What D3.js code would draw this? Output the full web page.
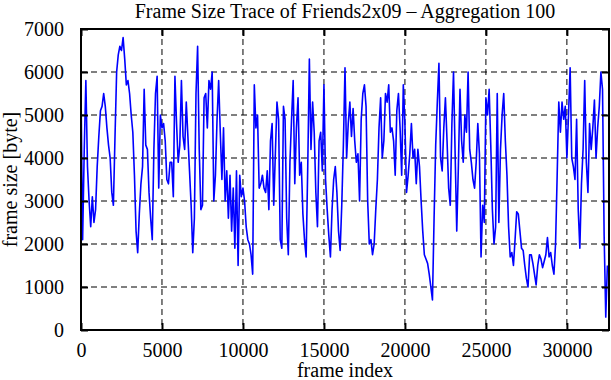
<!DOCTYPE html>
<html>
<head>
<meta charset="utf-8">
<script src="https://cdn.jsdelivr.net/npm/d3@7"></script>
<style>
  body { margin: 0; background: #fff; }
  text { font-family: "Liberation Serif", "Times New Roman", serif; font-size: 20px; fill: #000; }
</style>
</head>
<body>
<script>
// Frame sizes, each point is the mean of 100 frames
var frameSize = [
  5600, 2100, 4200, 5800, 3800, 3000, 2400, 3100, 2500, 2800,
  3800, 4500, 5100, 5200, 5500, 5200, 4700, 4300, 4000, 3200,
  2900, 4500, 6000, 6400, 6600, 6500, 6800, 6300, 5700, 5800,
  5500, 5000, 4600, 3600, 2300, 1800, 2700, 3400, 3800, 5600,
  4300, 4200, 3200, 2600, 2100, 4200, 5500, 5900, 3300, 5000,
  4700, 4800, 4400, 3500, 3400, 3900, 3900, 3100, 5900, 4800,
  3900, 4300, 5800, 4500, 4200, 5300, 4500, 3700, 2900, 1800,
  2600, 5500, 6600, 4200, 2800, 2900, 5400, 5500, 4700, 5800,
  5600, 6000, 3000, 3600, 4900, 5800, 4600, 3500, 4700, 3000,
  3700, 2600, 3600, 2300, 3300, 1900, 3700, 1500, 3600, 3100,
  3300, 3000, 2400, 2100, 2000, 1750, 1300, 5700, 4700, 5000,
  3300, 3400, 3600, 3300, 3200, 3700, 2800, 4400, 4800, 2900,
  4100, 5300, 4900, 2100, 1900, 5200, 4900, 2600, 1750, 3900,
  4900, 5800, 3400, 4700, 5400, 3600, 3900, 2700, 2100, 1700,
  3800, 6300, 4200, 5300, 4600, 3200, 2400, 4400, 4600, 3700,
  5700, 3500, 2800, 2200, 1700, 2800, 3500, 3800, 3200, 2300,
  1850, 2900, 4300, 6100, 4000, 4800, 5300, 4500, 5150, 4400,
  3900, 4100, 3000, 4900, 5500, 5700, 5200, 3000, 2000, 2100,
  1750, 2000, 2800, 3500, 4700, 5400, 4000, 4400, 5500, 5300,
  5700, 4600, 4700, 4400, 3600, 5100, 5500, 4700, 3600, 5700,
  4800, 3200, 3600, 4100, 4800, 4000, 4200, 3400, 4200, 3800,
  3000, 2300, 1750, 1650, 1550, 1300, 1000, 700, 2600, 4300,
  5300, 6200, 4000, 3700, 4700, 5400, 4400, 3300, 2900, 4800,
  6000, 4100, 2300, 3800, 5600, 4400, 3900, 5000, 4600, 6000,
  4200, 3900, 3500, 3300, 3900, 4800, 4100, 1700, 2900, 2500,
  5400, 5000, 5600, 4300, 2800, 2000, 2400, 5500, 2500, 4200,
  5000, 5500, 4400, 3600, 2400, 1700, 1800, 1500, 2100, 2750,
  2700, 2300, 1900, 1850, 1500, 1200, 1000, 1750, 1750, 1550,
  1300, 1050, 1500, 1750, 1650, 1450, 1600, 1750, 2150, 1700,
  1800, 1500, 1300, 2000, 3600, 5300, 4600, 5300, 4900, 5200,
  4000, 5000, 6100, 4000, 3800, 3500, 4900, 2800, 1900, 3400,
  4200, 5800, 3900, 3200, 4800, 4200, 4700, 5350, 4000, 4700,
  5200, 6000, 5600, 2200, 300, 1500
];
var aggregation = 100;
var xTicks = [0, 5000, 10000, 15000, 20000, 25000, 30000];
var yTicks = [0, 1000, 2000, 3000, 4000, 5000, 6000, 7000];
var xMax = 32600;

var data = frameSize.map((v, i) => ({frame: i * aggregation, size: v}));

// Set up the chart
var margin = {top: 29, right: 2, bottom: 50, left: 81},
    width = 611 - margin.left - margin.right,
    height = 380 - margin.top - margin.bottom;

var x = d3.scaleLinear().domain([0, xMax]).range([0, width]);
var y = d3.scaleLinear().domain([0, 7000]).range([height, 0]);

var svg = d3.select("body").append("svg")
    .attr("width", width + margin.left + margin.right)
    .attr("height", height + margin.top + margin.bottom)
    .append("g")
    .attr("transform", "translate(" + margin.left + "," + margin.top + ")");

// Dashed grid
svg.append("g")
    .selectAll("line.vgrid")
    .data(xTicks.slice(1))
    .enter().append("line")
    .attr("x1", d => x(d)).attr("x2", d => x(d))
    .attr("y1", 0).attr("y2", height)
    .attr("stroke", "#000").attr("stroke-width", 1)
    .attr("stroke-dasharray", "6,4");

svg.append("g")
    .selectAll("line.hgrid")
    .data(yTicks.slice(1, -1))
    .enter().append("line")
    .attr("x1", 0).attr("x2", width)
    .attr("y1", d => y(d)).attr("y2", d => y(d))
    .attr("stroke", "#000").attr("stroke-width", 1)
    .attr("stroke-dasharray", "6,4");

// The trace
svg.append("path")
    .datum(data)
    .attr("fill", "none")
    .attr("stroke", "#0000ff")
    .attr("stroke-width", 1.6)
    .attr("stroke-linejoin", "round")
    .attr("d", d3.line().x(d => x(d.frame)).y(d => y(d.size)));

// Axes, ticks point inward on all four sides
function styleAxis(g) {
    g.select(".domain").remove();
    g.selectAll(".tick line").attr("stroke", "#000").attr("stroke-width", 2);
    g.selectAll(".tick text").attr("font-family", null).attr("font-size", null);
}

svg.append("g")
    .attr("transform", "translate(0," + height + ")")
    .call(d3.axisBottom(x).tickValues(xTicks).tickSizeInner(-7).tickSizeOuter(0).tickPadding(13).tickFormat(d3.format("d")))
    .call(styleAxis);

svg.append("g")
    .call(d3.axisTop(x).tickValues(xTicks).tickSizeInner(-7).tickSizeOuter(0).tickFormat(""))
    .call(styleAxis);

svg.append("g")
    .call(d3.axisLeft(y).tickValues(yTicks).tickSizeInner(-7).tickSizeOuter(0).tickPadding(17).tickFormat(d3.format("d")))
    .call(styleAxis);

svg.append("g")
    .attr("transform", "translate(" + width + ",0)")
    .call(d3.axisRight(y).tickValues(yTicks).tickSizeInner(-7).tickSizeOuter(0).tickFormat(""))
    .call(styleAxis);

// Frame
svg.append("rect")
    .attr("width", width).attr("height", height)
    .attr("fill", "none").attr("stroke", "#000").attr("stroke-width", 2);

// Title and axis labels
svg.append("text")
    .attr("x", width / 2)
    .attr("y", -11)
    .style("text-anchor", "middle")
    .text("Frame Size Trace of Friends2x09 \u2013 Aggregation 100");

svg.append("text")
    .attr("x", width / 2)
    .attr("y", height + 47)
    .style("text-anchor", "middle")
    .text("frame index");

svg.append("text")
    .attr("transform", "rotate(-90)")
    .attr("x", -height / 2)
    .attr("y", 17 - margin.left)
    .style("text-anchor", "middle")
    .text("frame size [byte]");
</script>
</body>
</html>
